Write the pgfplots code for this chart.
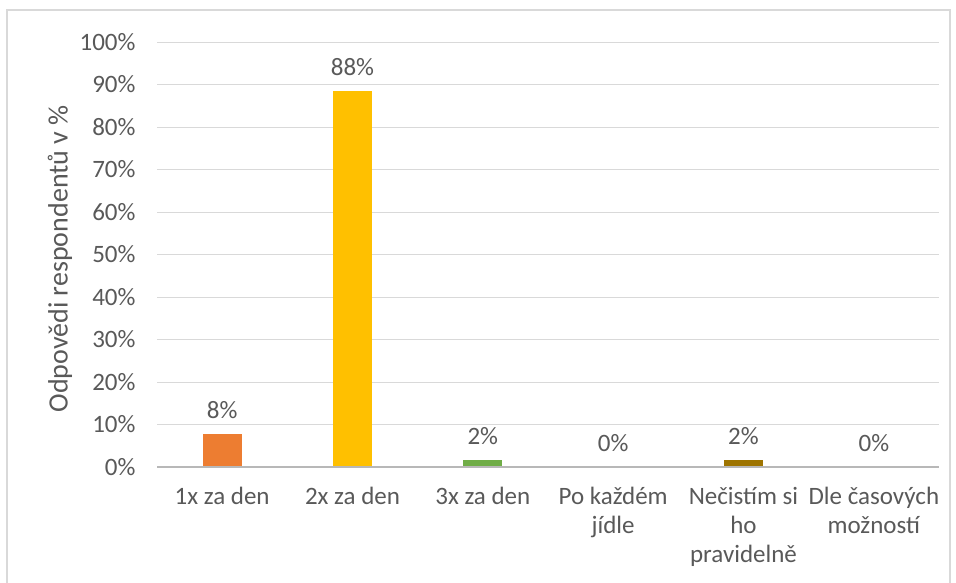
\documentclass[border=0pt]{standalone}
\usepackage{fontspec}
\setmainfont{Carlito}
\usepackage{pgfplots}
\pgfplotsset{compat=1.18}
\definecolor{txt}{HTML}{595959}
\definecolor{gridc}{HTML}{D9D9D9}
\definecolor{c1}{HTML}{ED7D31}
\definecolor{c2}{HTML}{FFC000}
\definecolor{c3}{HTML}{70AD47}
\definecolor{c4}{HTML}{4472C4}
\definecolor{c5}{HTML}{9E7400}
\definecolor{c6}{HTML}{5B9BD5}
\newcommand{\cf}{\fontsize{25bp}{29bp}\selectfont}
\newcommand{\lf}{\fontsize{28bp}{32bp}\selectfont}
\begin{document}
\begin{tikzpicture}[x=1bp,y=1bp]
\useasboundingbox (0,0) rectangle (956,-583);
\draw[gridc, line width=1.2bp] (7,-583) -- (7,-10) -- (950,-10) -- (950,-583);
\begin{axis}[
  at={(157bp,-467bp)}, anchor=south west,
  scale only axis, width=782bp, height=425bp,
  ybar, bar width=0.3,
  xmin=-0.5, xmax=5.5, ymin=0, ymax=100,
  xtick={0,1,2,3,4,5},
  xticklabels={1x za den, 2x za den, 3x za den, Po každém\\jídle, Nečistím si\\ho\\pravidelně, Dle časových\\možností},
  typeset ticklabels with strut,
  ytick={0,10,...,100},
  /pgf/number format/assume math mode=true,
  yticklabel={\pgfmathprintnumber{\tick}\%},
  ymajorgrids, grid style={gridc, line width=1bp},
  axis line style={draw=none},
  major tick length=0pt,
  tick style={draw=none},
  ticklabel style={txt, font=\cf},
  xticklabel style={align=center, yshift=-14bp},
  yticklabel style={xshift=-18bp},
  ylabel={Odpovědi respondentů v \%},
  ylabel style={txt, font=\lf, at={(axis description cs:-0.124,0.49)}, anchor=center, rotate=0},
  nodes near coords={\pgfmathprintnumber[fixed,precision=0]{\pgfplotspointmeta}\%},
  nodes near coords style={txt, font=\cf, anchor=south, yshift=12bp},
  clip=false,
]
\addplot[fill=c1, draw=none, bar shift=0pt] coordinates {(0,7.8)};
\addplot[fill=c2, draw=none, bar shift=0pt] coordinates {(1,88.4)};
\addplot[fill=c3, draw=none, bar shift=0pt] coordinates {(2,1.6)};
\addplot[fill=c4, draw=none, bar shift=0pt] coordinates {(3,0)};
\addplot[fill=c5, draw=none, bar shift=0pt] coordinates {(4,1.6)};
\addplot[fill=c6, draw=none, bar shift=0pt] coordinates {(5,0)};
\draw[gridc!85!black, line width=1.5bp] (axis cs:-0.5,0) -- (axis cs:5.5,0);
\end{axis}
\end{tikzpicture}
\end{document}
